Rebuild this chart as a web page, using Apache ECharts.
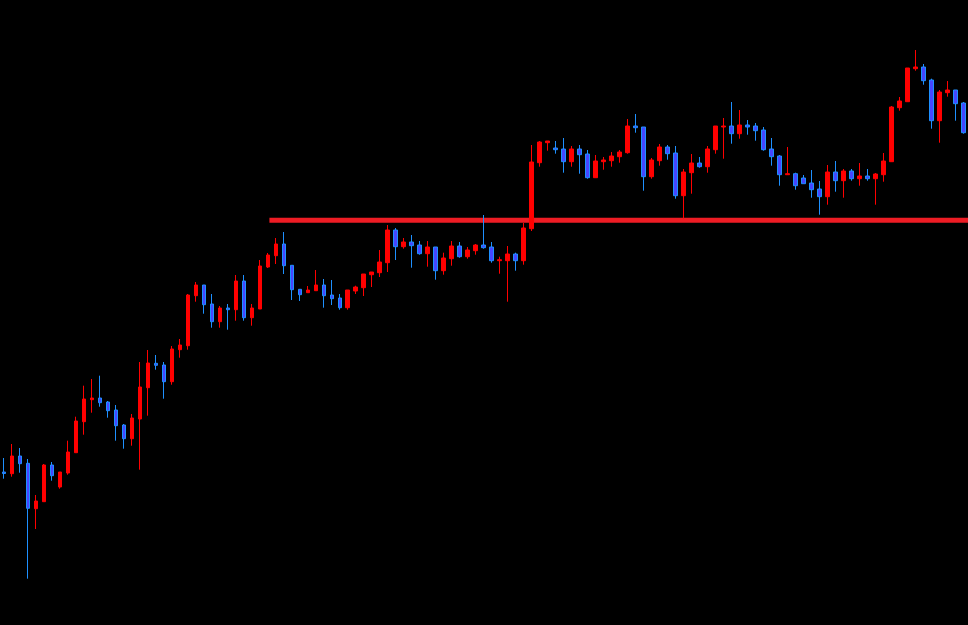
<!DOCTYPE html>
<html>
<head>
<meta charset="utf-8">
<script src="https://cdn.jsdelivr.net/npm/echarts@6/dist/echarts.min.js"></script>
<style>
  html, body { margin: 0; padding: 0; background: #000; }
  #chart { width: 968px; height: 625px; }
</style>
</head>
<body>
<div id="chart"></div>
<script>
// candles, oldest first
const opens = [
  153, 151.3, 169, 161.7, 116.3, 123.3, 160, 138, 152, 172.3,
  203.3, 225.3, 227, 223, 215, 200, 186.3, 206, 237.3, 261.7,
  260, 243.3, 275.3, 279.3, 329.3, 340, 321, 303.3, 317, 315.3,
  344, 307.3, 316, 358, 369.3, 381, 359.7, 335.7, 332.3, 334.3,
  340, 330, 327, 317.3, 334, 337.3, 350.3, 352.3, 362.3, 395,
  378.3, 383, 380, 371.3, 378, 354.3, 366.3, 379, 368.3, 374.3,
  380, 378, 364.3, 364.3, 371, 364.3, 396.3, 462.3, 482.3, 477,
  476, 463.3, 476, 471, 447.3, 463.3, 464.3, 468.3, 472.3, 499,
  498, 448.3, 464.3, 478, 472, 429.3, 452.3, 462, 458.3, 475.3,
  498, 499, 491.3, 500, 499, 495, 476, 469, 450.3, 451.3,
  447, 442, 436, 428.3, 453, 444.3, 454, 446.3, 449, 446.3,
  450.3, 463.3, 517.3, 523.3, 556.3, 558, 545, 504.3, 532.3, 535,
  522
];
const closes = [
  151.5, 169, 161.3, 116.7, 124, 160, 149.3, 153, 173, 204,
  226, 227, 222.3, 214.3, 199.3, 186.3, 207, 238, 262, 259.7,
  243.3, 276, 280, 330, 340, 320.3, 303.3, 317, 315.3, 344,
  307.3, 317, 359, 370, 381, 359.3, 335.3, 330.3, 335, 340,
  329.3, 326.3, 317.3, 335, 338, 351, 353, 363, 395, 378.3,
  383, 379.3, 371.3, 378, 354.3, 367, 379, 368.3, 375, 380,
  377.3, 364.3, 365.3, 371, 364.3, 397, 463, 483, 484, 475.3,
  463.3, 476, 470.3, 447.3, 464, 465, 469, 473, 499, 497.3,
  448.3, 465, 478, 471.3, 429.3, 453, 462, 458.3, 476, 499,
  499, 491.3, 500, 498, 494.3, 475.3, 468.3, 450.3, 451.3, 439.3,
  441.3, 435.3, 428.3, 453, 444.3, 454, 446.3, 449, 446.3, 451,
  464, 518, 524, 557, 558, 544.3, 504.3, 533, 535, 521.3,
  492.3
];
const lows = [
  146.3, 148.3, 152.3, 46.3, 96, 123.3, 144.3, 136.3, 150.3, 172.3,
  190.3, 212.3, 218.3, 207.3, 184.3, 176.3, 179.3, 155.3, 209.3, 255.3,
  226.3, 240.3, 267.3, 275.3, 323.3, 311.3, 297.3, 297.3, 295.3, 304.3,
  304.3, 299.3, 316, 357, 361, 351, 325, 324, 332.3, 334.3,
  317.3, 320, 315.3, 315.3, 331, 329, 338, 348, 353, 365,
  376.3, 357.3, 370.3, 358.3, 345.3, 350.3, 359.3, 367.3, 366.3, 370.3,
  376.3, 362.3, 351.3, 323.3, 354.3, 360.3, 394, 458.3, 474.3, 471.3,
  452.3, 458.3, 451.3, 446.3, 447.3, 455.3, 458.3, 462.3, 471.3, 492.3,
  434.3, 446.3, 459.3, 465.3, 426.3, 406.7, 431.3, 457.3, 452.3, 471.3,
  466.3, 481.3, 486.3, 490.3, 484.3, 474.3, 459.3, 439.3, 450.3, 435.3,
  441.3, 427.3, 410.3, 420.3, 433.3, 427.3, 444.3, 439.3, 444.3, 420.3,
  443.3, 463.3, 514.3, 523.3, 554.3, 540.3, 496.3, 482.3, 528.3, 504.3,
  491.3
];
const highs = [
  167, 181, 177, 166, 130, 161, 163, 153, 184.3, 208.3,
  239.3, 246, 249.3, 224, 220, 201, 211, 263, 275, 270,
  263, 279, 286, 331, 343, 340, 331, 319, 321, 350,
  350, 321, 365, 372, 387, 393, 359.7, 336, 339, 355,
  346, 345, 331, 335, 339.3, 351, 353, 375, 400, 397,
  387, 390, 384, 384, 378, 372.3, 384, 383, 378, 381,
  410, 383, 368.3, 379, 372.3, 402, 480, 484, 484, 484,
  487, 479, 480, 475, 470, 468, 473, 475, 506, 511,
  498, 467, 481, 480, 479, 456, 471, 468, 479, 499,
  507, 523, 515, 505, 502, 498, 487, 470, 478, 452.3,
  450, 455, 444, 460, 464, 456, 456, 462, 456, 452,
  472, 519, 528, 557, 575, 561, 546.3, 535, 544, 535,
  523
];
const categories = opens.map((_, i) => String(i + 1));

// horizontal level: price and where it starts/ends, in candle-index units
const levelPrice = 404.7;
const levelFrom = 33.2;
const levelTo = 121;

const candles = opens.map((o, i) => [o, closes[i], lows[i], highs[i]]);

const chart = echarts.init(document.getElementById('chart'));
chart.setOption({
  backgroundColor: '#000000',
  animation: false,
  grid: { left: -0.7, right: 0.7, top: 0, bottom: 0 },
  xAxis: [
    {
      type: 'category',
      data: categories,
      boundaryGap: true,
      show: false
    },
    {
      // index axis lined up with the candle bands, used for the level line
      type: 'value',
      min: -0.5,
      max: categories.length - 0.5,
      show: false
    }
  ],
  yAxis: {
    type: 'value',
    min: 0,
    max: 625,
    show: false,
    splitLine: { show: false }
  },
  series: [
    {
      type: 'candlestick',
      data: candles,
      barWidth: 4,
      itemStyle: {
        color: '#ff0000',
        borderColor: '#ff0000',
        color0: '#4646ff',
        borderColor0: '#1e90ff',
        borderWidth: 1
      }
    },
    {
      type: 'line',
      xAxisIndex: 1,
      data: [[levelFrom, levelPrice], [levelTo, levelPrice]],
      showSymbol: false,
      silent: true,
      clip: true,
      z: 1,
      lineStyle: { color: '#ee1c24', width: 5 }
    }
  ]
});
</script>
</body>
</html>
